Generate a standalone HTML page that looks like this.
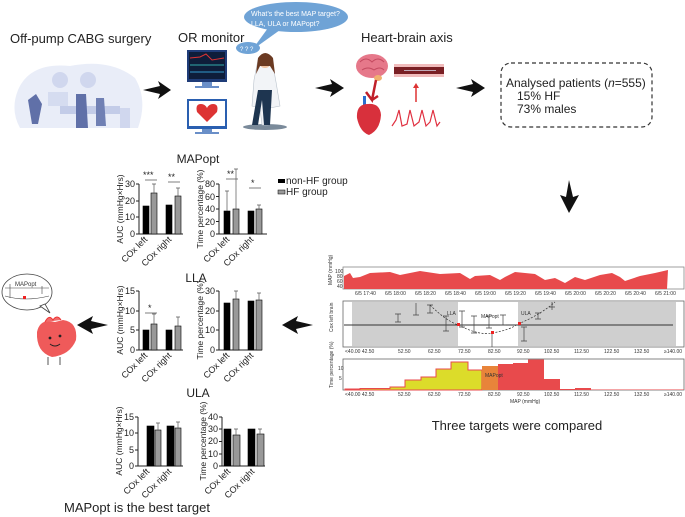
<!DOCTYPE html>
<html><head><meta charset="utf-8"><style>
html,body{margin:0;padding:0;background:#fff;}
svg{display:block;font-family:"Liberation Sans",sans-serif;}
</style></head><body>
<svg width="685" height="517" viewBox="0 0 685 517" xmlns="http://www.w3.org/2000/svg">
<g font-size="13" fill="#222">
<text x="10" y="43">Off-pump CABG surgery</text>
<text x="178" y="42">OR monitor</text>
<text x="361" y="42">Heart-brain axis</text>
</g>
<path d="M18,90 Q30,62 70,66 Q110,58 135,78 Q148,100 138,128 L20,128 Q10,110 18,90Z" fill="#e9edf8"/>
<circle cx="60" cy="80" r="8" fill="#d0d7ee"/><circle cx="88" cy="80" r="8" fill="#d0d7ee"/>
<rect x="48" y="92" width="20" height="14" fill="#d5dcf0"/>
<rect x="60" y="106" width="60" height="8" fill="#c3cce8"/>
<path d="M28,100 l8,-6 l6,10 l-4,20 l-6,0z" fill="#6070a8"/>
<path d="M76,94 l10,0 l2,34 l-12,0z" fill="#6070a8"/>
<path d="M96,98 l8,0 l2,28 l-10,0z" fill="#7080b4"/>
<rect x="120" y="108" width="10" height="20" fill="#d0d7ee"/>
<g fill="#111">
<path d="M143,90 L160,86 L158,81 L171,90 L158,99 L160,94Z"/>
<path d="M315,88 L332,84 L330,79 L344,88 L330,97 L332,92Z"/>
<path d="M456,88 L473,84 L471,79 L485,88 L471,97 L473,92Z"/>
<path d="M569,180 L573,197 L579,195 L569,213 L560,195 L566,197Z"/>
<path d="M313,325 L296,321 L298,316 L282,325 L298,334 L296,329Z"/>
<path d="M108,325 L91,321 L93,316 L77,325 L93,334 L91,329Z"/>
</g>
<rect x="187" y="50" width="40" height="32" fill="#1f3c78"/>
<rect x="189" y="52" width="36" height="27" fill="#0e1d3a"/>
<polyline points="190,58 200,57 206,54 212,60 224,58" stroke="#d33" fill="none" stroke-width="1"/>
<polyline points="190,65 224,65" stroke="#3aa" stroke-width="1"/>
<polyline points="190,72 224,72" stroke="#39c" stroke-width="1"/>
<rect x="202" y="82" width="10" height="4" fill="#6a8fc8"/><rect x="195" y="86" width="24" height="2" fill="#6a8fc8"/>
<rect x="187" y="99" width="40" height="30" fill="#2a5fb0"/>
<rect x="189" y="101" width="36" height="25" fill="#fff"/>
<path d="M207,122 L197,112 Q195,104 201,104 Q205,104 207,108 Q209,104 213,104 Q219,104 217,112Z" fill="#d33"/>
<rect x="202" y="129" width="10" height="3" fill="#6a8fc8"/><rect x="195" y="132" width="24" height="2" fill="#6a8fc8"/>
<ellipse cx="265" cy="127" rx="22" ry="3" fill="#7a8a9a"/>
<path d="M258,60 Q265,52 272,60 L276,82 L280,106 L270,108 L268,125 L262,125 L260,108 L252,106 L254,80Z" fill="#f2f4f7" stroke="#b9c2cc" stroke-width="0.6"/>
<path d="M258,90 L272,90 L270,125 L264,125 L262,100 L258,125 L252,125Z" fill="#1e3550"/>
<circle cx="265" cy="62" r="6" fill="#f0c2a0"/>
<path d="M258,58 Q265,48 273,58 L275,74 L270,66 L260,66 L256,74Z" fill="#6b3a22"/>
<ellipse cx="296" cy="17" rx="52" ry="15" fill="#6fa3d6"/>
<path d="M268,28 L252,50 L280,30Z" fill="#6fa3d6"/>
<text x="251" y="16" font-size="7" fill="#fff">What’s the best MAP target?</text>
<text x="251" y="26" font-size="7" fill="#fff">LLA, ULA or MAPopt?</text>
<ellipse cx="248" cy="48" rx="12" ry="6" fill="#6fa3d6"/>
<text x="240" y="51" font-size="6" fill="#fff">? ? ?</text>
<ellipse cx="372" cy="66" rx="16" ry="12" fill="#e6788a"/>
<path d="M360,62 q6,-6 12,0 q6,-6 12,0 M362,70 q6,-4 12,0 q6,-4 10,0" stroke="#c44a60" fill="none"/>
<ellipse cx="378" cy="78" rx="4" ry="3" fill="#f0b070"/>
<path d="M376,80 L372,100 L366,92 M372,100 L378,96" stroke="#c0202a" stroke-width="2.5" fill="none"/>
<rect x="363" y="96" width="3" height="10" fill="#2a6fd0"/>
<path d="M368,104 Q356,104 357,118 Q360,132 369,135 Q380,130 381,115 Q380,103 368,104Z" fill="#d8303c"/>
<rect x="394" y="64" width="50" height="13" fill="#f1bcbc"/>
<rect x="394" y="67" width="50" height="7" fill="#7a1f24"/>
<line x1="404" y1="70.5" x2="436" y2="70.5" stroke="#d8d8e8" stroke-width="0.8"/>
<line x1="416" y1="102" x2="416" y2="86" stroke="#d33" stroke-width="1.5"/>
<path d="M413,88 L416,83 L419,88Z" fill="#d33"/>
<polyline points="392,126 396,120 399,110 402,126 407,124 410,110 414,126 419,122 422,110 426,126 430,122 433,110 437,126 440,122" stroke="#e03040" fill="none" stroke-width="1.2"/>
<rect x="501" y="63" width="151" height="64" rx="10" fill="none" stroke="#333" stroke-width="1.2" stroke-dasharray="4,3"/>
<g font-size="12" fill="#222">
<text x="506" y="87">Analysed patients (<tspan font-style="italic">n</tspan>=555)</text>
<text x="517" y="100">15% HF</text>
<text x="517" y="113">73% males</text>
</g>

<g font-size="12" fill="#222">
<text x="198" y="163" text-anchor="middle">MAPopt</text>
<text x="196" y="282" text-anchor="middle">LLA</text>
<text x="198" y="397" text-anchor="middle">ULA</text>
</g>
<g stroke="#222" stroke-width="1" fill="none">
<path d="M139,184 V234 H183"/><path d="M136,184h3M136,201h3M136,217h3M136,234h3"/>
<path d="M219,184 V234 H267"/>
<path d="M216,184h3M216,196.5h3M216,209h3M216,221.5h3M216,234h3"/>
<path d="M139,291 V350 H183"/><path d="M136,291h3M136,311h3M136,330h3M136,350h3"/>
<path d="M219,291 V350 H262"/><path d="M216,291h3M216,311h3M216,330h3M216,350h3"/>
<path d="M138,417 V466 H183"/><path d="M135,417h3M135,433h3M135,450h3M135,466h3"/>
<path d="M222,417 V466 H265"/><path d="M219,417h3M219,429h3M219,441.5h3M219,454h3M219,466h3"/>
</g>
<g fill="#000" stroke="#000" stroke-width="0.6">
<rect x="143" y="206" width="6" height="28"/><rect x="166" y="205" width="6" height="29"/>
<rect x="224" y="211" width="6" height="23"/><rect x="248" y="211" width="6" height="23"/>
<rect x="143" y="330" width="6" height="20"/><rect x="166" y="330" width="6" height="20"/>
<rect x="224" y="303" width="6" height="47"/><rect x="248" y="301" width="6" height="49"/>
<rect x="147" y="426" width="7" height="40"/><rect x="167" y="426" width="7" height="40"/>
<rect x="224" y="429" width="7" height="37"/><rect x="248" y="429" width="7" height="37"/>
</g>
<g fill="#999" stroke="#000" stroke-width="0.6">
<rect x="151" y="193" width="6" height="41"/><rect x="175" y="196" width="6" height="38"/>
<rect x="233" y="209" width="6" height="25"/><rect x="256" y="209" width="6" height="25"/>
<rect x="151" y="324" width="6" height="26"/><rect x="175" y="326" width="6" height="24"/>
<rect x="233" y="299" width="6" height="51"/><rect x="256" y="300" width="6" height="50"/>
<rect x="155" y="430" width="6" height="36"/><rect x="175" y="428" width="6" height="38"/>
<rect x="233" y="435" width="7" height="31"/><rect x="257" y="434" width="7" height="32"/>
</g>
<g stroke="#555" stroke-width="0.7" fill="none">
<path d="M154,193v-9M152,184h4M178,196v-8M176,188h4M236,209v-40M234,169h4M259,209v-4M257,205h4M227,211v-20M225,191h4"/>
<path d="M154,324v-10M152,314h4M178,326v-9M176,317h4M236,299v-8M234,291h4M259,300v-7M257,293h4"/>
<path d="M158,430v-7M156,423h4M178,428v-6M176,422h4M236,435v-6M234,429h4M260,434v-5M258,429h4"/>
<path d="M145,180h12M168,182h12M226,179h12M249,188h12M145,313h12"/>
</g>
<g font-size="9" fill="#222">
<text x="143" y="178">***</text><text x="168" y="180">**</text><text x="227" y="177">**</text><text x="251" y="186">*</text><text x="148" y="311">*</text>
</g>
<g font-size="9" fill="#222">
<text x="135" y="237" text-anchor="end">0</text><text x="135" y="220" text-anchor="end">10</text><text x="135" y="204" text-anchor="end">20</text><text x="135" y="187" text-anchor="end">30</text>
<text x="215" y="237" text-anchor="end">0</text><text x="215" y="225" text-anchor="end">20</text><text x="215" y="212" text-anchor="end">40</text><text x="215" y="200" text-anchor="end">60</text><text x="215" y="187" text-anchor="end">80</text>
<text x="135" y="353" text-anchor="end">0</text><text x="135" y="333" text-anchor="end">5</text><text x="135" y="314" text-anchor="end">10</text><text x="135" y="294" text-anchor="end">15</text>
<text x="215" y="353" text-anchor="end">0</text><text x="215" y="333" text-anchor="end">10</text><text x="215" y="314" text-anchor="end">20</text><text x="215" y="294" text-anchor="end">30</text>
<text x="134" y="469" text-anchor="end">0</text><text x="134" y="453" text-anchor="end">5</text><text x="134" y="436" text-anchor="end">10</text><text x="134" y="420" text-anchor="end">15</text>
<text x="218" y="469" text-anchor="end">0</text><text x="218" y="457" text-anchor="end">10</text><text x="218" y="444" text-anchor="end">20</text><text x="218" y="432" text-anchor="end">30</text><text x="218" y="420" text-anchor="end">40</text>
</g>
<g font-size="8.5" fill="#222" text-anchor="middle">
<text transform="translate(123,209) rotate(-90)">AUC (mmHg×Hrs)</text>
<text transform="translate(203,209) rotate(-90)">Time percentage (%)</text>
<text transform="translate(123,320) rotate(-90)">AUC (mmHg×Hrs)</text>
<text transform="translate(203,320) rotate(-90)">Time percentage (%)</text>
<text transform="translate(122,441) rotate(-90)">AUC (mmHg×Hrs)</text>
<text transform="translate(206,441) rotate(-90)">Time percentage (%)</text>
</g>
<g font-size="9" fill="#222" text-anchor="end">
<text transform="translate(148,240) rotate(-45)">COx left</text><text transform="translate(172,240) rotate(-45)">COx right</text>
<text transform="translate(230,240) rotate(-45)">COx left</text><text transform="translate(254,240) rotate(-45)">COx right</text>
<text transform="translate(148,356) rotate(-45)">COx left</text><text transform="translate(172,356) rotate(-45)">COx right</text>
<text transform="translate(230,356) rotate(-45)">COx left</text><text transform="translate(254,356) rotate(-45)">COx right</text>
<text transform="translate(150,472) rotate(-45)">COx left</text><text transform="translate(172,472) rotate(-45)">COx right</text>
<text transform="translate(231,472) rotate(-45)">COx left</text><text transform="translate(255,472) rotate(-45)">COx right</text>
</g>
<rect x="278" y="179" width="7" height="4" fill="#000"/>
<rect x="278" y="190" width="7" height="4" fill="#999" stroke="#000" stroke-width="0.5"/>
<g font-size="10" fill="#222"><text x="286" y="184">non-HF group</text><text x="286" y="195">HF group</text></g>
<text x="64" y="512" font-size="13" fill="#222">MAPopt is the best target</text>

<ellipse cx="27" cy="292" rx="25" ry="18" fill="#fff" stroke="#444" stroke-width="0.8"/>
<path d="M40,306 L50,313 L45,304Z" fill="#fff" stroke="#444" stroke-width="0.8"/>
<text x="15" y="286" font-size="6" fill="#333">MAPopt</text>
<path d="M5,288h44M10,284v14M42,286v8M5,296 q20,6 44,0" stroke="#444" stroke-width="0.6" fill="none"/>
<rect x="23" y="296" width="3" height="3" fill="#e22"/>
<path d="M55,322 Q40,318 37,332 Q36,352 52,357 Q70,355 76,340 Q78,322 63,320Z" fill="#ef5a5a"/>
<path d="M45,322 q4,-8 8,-2 q4,-6 8,0" stroke="#e33" fill="#f06a6a"/>
<path d="M48,357v8M60,357v8" stroke="#555"/>
<circle cx="50" cy="338" r="1.4" fill="#222"/><circle cx="60" cy="336" r="1.4" fill="#222"/>
<path d="M50,344 q5,4 10,0" stroke="#222" fill="none"/>

<rect x="343" y="267" width="341" height="22" fill="#fff" stroke="#888" stroke-width="0.8"/>
<path d="M344,289 L344,276 L350,273 L353,278 L360,277 L370,273 L390,272 L400,275 L420,271 L440,274 L460,273 L470,279 L475,276 L490,275 L500,280 L505,277 L515,272 L525,273 L535,274 L545,280 L555,278 L565,283 L575,277 L585,280 L600,275 L612,273 L620,277 L625,281 L640,276 L655,273 L668,270 L667,289Z" fill="#e84a4c"/>
<g font-size="5" fill="#333">
<text transform="translate(332,285) rotate(-90)">MAP (mmHg)</text>
<text x="335" y="273">100</text><text x="337" y="278">80</text><text x="337" y="283">60</text><text x="337" y="288">40</text>
<text x="355" y="295">6/5 17:40</text><text x="385" y="295">6/5 18:00</text><text x="415" y="295">6/5 18:20</text><text x="445" y="295">6/5 18:40</text><text x="475" y="295">6/5 19:00</text><text x="505" y="295">6/5 19:20</text><text x="535" y="295">6/5 19:40</text><text x="565" y="295">6/5 20:00</text><text x="595" y="295">6/5 20:20</text><text x="625" y="295">6/5 20:40</text><text x="655" y="295">6/5 21:00</text>
</g>
<rect x="343" y="301" width="341" height="46" fill="#fff" stroke="#666" stroke-width="0.8"/>
<rect x="352" y="302" width="106" height="44" fill="#cfcfcf"/>
<rect x="518" y="302" width="158" height="44" fill="#cfcfcf"/>
<line x1="344" y1="325" x2="673" y2="325" stroke="#333" stroke-width="1"/>
<g stroke="#444" stroke-width="0.7" fill="none">
<path d="M398,314v8M395,314h6M395,322h6"/><path d="M416,303v12M413,315h6"/><path d="M430,305v8M427,305h6M427,313h6"/><path d="M446,316v15M443,316h6M443,331h6"/><path d="M462,311v16M459,311h6M459,327h6"/><path d="M474,316v17M471,316h6M471,333h6"/><path d="M489,316v12M486,316h6M486,328h6"/><path d="M503,315v10M500,315h6M500,325h6"/><path d="M524,327v14M521,327h6M521,341h6"/><path d="M538,313v6M535,313h6M535,319h6"/><path d="M552,302v8M549,307h6"/>
<path d="M492,333v14"/>
</g>
<path d="M430,305 Q445,320 458,325 Q480,336 492,333 Q510,330 518,324 Q540,315 555,302" stroke="#333" stroke-width="0.7" fill="none" stroke-dasharray="2,1.5"/>
<rect x="457" y="323" width="3" height="3" fill="#e22"/><rect x="491" y="331" width="3" height="3" fill="#e22"/><rect x="518" y="322" width="3" height="3" fill="#e22"/>
<g font-size="5" fill="#333">
<text x="447" y="315">LLA</text><text x="481" y="318">MAPopt</text><text x="521" y="315">ULA</text>
<text transform="translate(333,332) rotate(-90)">Cox left brain</text>
<text x="345" y="353">&lt;40.00 42.50</text><text x="398" y="353">52.50</text><text x="428" y="353">62.50</text><text x="458" y="353">72.50</text><text x="488" y="353">82.50</text><text x="517" y="353">92.50</text><text x="544" y="353">102.50</text><text x="574" y="353">112.50</text><text x="604" y="353">122.50</text><text x="634" y="353">132.50</text><text x="664" y="353">≥140.00</text>
</g>
<rect x="343" y="359" width="341" height="31" fill="#fff" stroke="#666" stroke-width="0.8"/>
<path d="M345,390 V389 H360 V388.5 H390 V387 H405 V380 H421 V377 H436 V369 H451 V362 H468 V370 H482 V390Z" fill="#dcdc2a" stroke="#e84a4c" stroke-width="1"/>
<rect x="482" y="366" width="16" height="24" fill="#e8843a"/>
<path d="M498,390 V364 H513 V363 H528 V359.5 H544 V379 H560 V389 H575 V388 H591 V389.5 H684 V390Z" fill="#e84a4c"/>
<g font-size="5" fill="#333">
<text transform="translate(333,388) rotate(-90)">Time percentage (%)</text>
<text x="338" y="370">10</text><text x="339" y="380">5</text>
<text x="485" y="377">MAPopt</text>
<text x="345" y="396">&lt;40.00 42.50</text><text x="398" y="396">52.50</text><text x="428" y="396">62.50</text><text x="458" y="396">72.50</text><text x="488" y="396">82.50</text><text x="517" y="396">92.50</text><text x="544" y="396">102.50</text><text x="574" y="396">112.50</text><text x="604" y="396">122.50</text><text x="634" y="396">132.50</text><text x="664" y="396">≥140.00</text>
<text x="510" y="403">MAP (mmHg)</text>
</g>
<text x="517" y="430" font-size="13" fill="#222" text-anchor="middle">Three targets were compared</text>
</svg>
</body></html>
